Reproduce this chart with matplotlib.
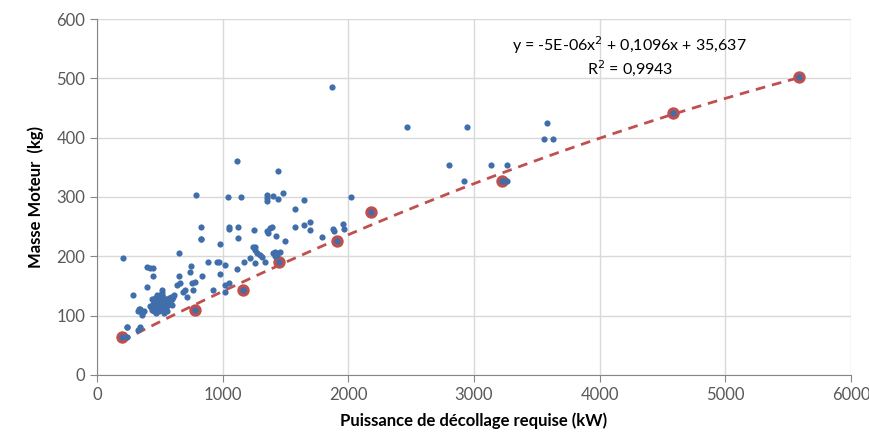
import numpy as np
import matplotlib.pyplot as plt

plt.rcParams['font.family'] = ['Lato', 'DejaVu Sans']

# moteurs de la base (puissance kW, masse kg)
puissance = [
    204, 652, 395, 422, 448, 448, 395, 289, 752, 740, 655, 660, 639, 700, 682, 718,
    342, 355, 329, 236, 342, 329, 236, 236, 342,
    430, 440, 450, 460, 470, 480, 490, 500, 510, 520, 530, 540, 550, 560, 570, 580,
    590, 600, 610, 455, 465, 475, 485, 495, 505, 515, 525, 535, 545, 555, 500, 445,
    420, 520, 560, 480, 470, 530, 600, 440, 334, 350, 376, 355, 514,
    825, 979, 1257, 1257, 1270, 1217, 1297, 1403, 1430, 886, 952, 973, 1018, 1169,
    1257, 1111, 979, 832, 780, 753, 766, 925, 1018, 1053, 1016, 607, 581,
    1443, 1350, 1350, 1350, 1403, 1443, 1477, 1647, 2018, 1575, 1249, 1376, 1390,
    1355, 1422, 1496, 1575, 1647, 1694, 1694, 1788, 1880, 1885, 1954, 1965, 1310,
    1416, 1456, 1416, 1337, 1363, 1244,
    1867, 2464, 1111, 785, 1040, 1148, 825, 825, 1050, 1050, 1124, 1124,
    2946, 3578, 3559, 3625, 2800, 3134, 3264, 2924, 3240, 3264,
]
masse = [
    197, 206, 182, 180, 180, 167, 149, 135, 183, 174, 166, 155, 152, 143, 140, 131,
    112, 104, 107, 81, 79, 76, 64, 80, 81,
    115, 110, 108, 112, 118, 112, 108, 115, 120, 112, 118, 125, 120, 128, 130, 125,
    132, 128, 135, 125, 130, 122, 128, 124, 130, 126, 132, 110, 114, 108, 135, 120,
    117, 138, 117, 135, 105, 105, 118, 128, 111, 108, 108, 101, 143,
    229, 221, 216, 211, 205, 197, 202, 205, 202, 190, 190, 190, 185, 190,
    188, 179, 170, 167, 156, 155, 143, 143, 151, 155, 139, 132, 126,
    343, 304, 298, 294, 301, 297, 306, 295, 300, 279, 245, 247, 249,
    242, 234, 226, 250, 253, 257, 245, 233, 246, 243, 254, 246, 199,
    208, 208, 201, 191, 240, 216,
    485, 418, 360, 304, 300, 300, 250, 229, 250, 246, 250, 231,
    418, 425, 398, 398, 354, 354, 354, 327, 327, 327,
]

# moteurs retenus pour la courbe de tendance
puissance_ref = [196, 782, 1164, 1448, 1907, 2180, 3224, 4585, 5590]
masse_ref = [64, 110, 144, 191, 226, 275, 327, 441, 502]

bleu = '#3F6EAB'
rouge = '#C0504D'
gris = '#595959'

fig, ax = plt.subplots(figsize=(8.69, 4.36), dpi=100)
fig.subplots_adjust(left=0.1116, right=0.9793, top=0.9564, bottom=0.140)

# tendance polynomiale d'ordre 2
coef = np.polyfit(puissance_ref, masse_ref, 2)
xt = np.linspace(min(puissance_ref), max(puissance_ref), 200)
ax.plot(xt, np.polyval(coef, xt), color=rouge, lw=2, ls=(0, (3.5, 2.5)), zorder=2)

ax.scatter(puissance_ref, masse_ref, s=80, color=rouge, zorder=3, linewidths=0)
ax.scatter(puissance + puissance_ref, masse + masse_ref, s=20, color=bleu,
           zorder=4, linewidths=0)

ax.text(4240, 556, 'y = -5E-06x$^{2}$ + 0,1096x + 35,637', ha='center', va='center',
        fontsize=11.5, color='black')
ax.text(4240, 518, 'R$^{2}$ = 0,9943', ha='center', va='center', fontsize=11.5,
        color='black')

ax.set_xlim(0, 6000)
ax.set_ylim(0, 600)
ax.set_xticks(range(0, 6001, 1000))
ax.set_yticks(range(0, 601, 100))
ax.grid(True, color='#D9D9D9', lw=1)
ax.set_axisbelow(True)
for s in ['top', 'right']:
    ax.spines[s].set_visible(False)
for s in ['left', 'bottom']:
    ax.spines[s].set_color('#868686')
ax.tick_params(colors='#868686', labelcolor=gris, labelsize=12, length=5)

ax.set_xlabel('Puissance de décollage requise (kW)', fontsize=12, fontweight='bold',
              color='black', labelpad=7)
ax.set_ylabel('Masse Moteur  (kg)', fontsize=12, fontweight='bold', color='black',
              labelpad=9)

plt.savefig('out.png')
